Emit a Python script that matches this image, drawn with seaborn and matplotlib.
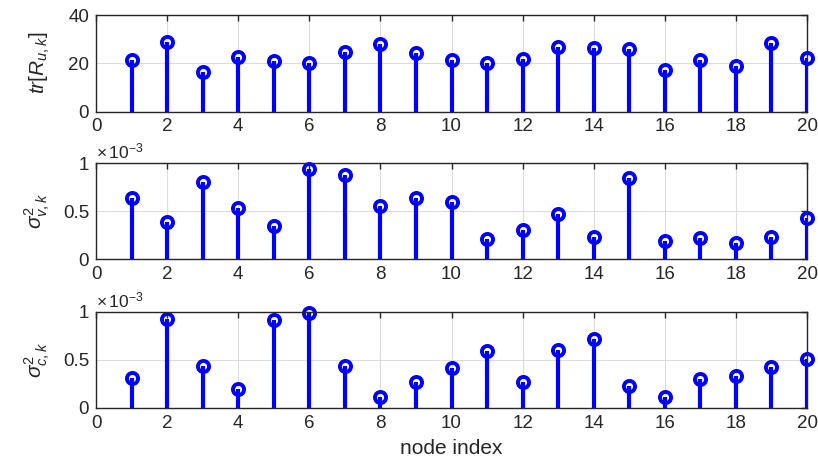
import numpy as np
import matplotlib
matplotlib.use("Agg")
import matplotlib.pyplot as plt
import matplotlib.ticker as mticker
import seaborn as sns

# node indices and the three quantities per node
nodes = list(range(1, 21))
tr_Ru = [21.4, 28.7, 16.5, 22.4, 21.0, 20.0, 24.8, 27.9, 24.4, 21.4,
         20.0, 21.9, 26.9, 26.5, 25.9, 17.1, 21.4, 19.0, 28.3, 22.1]
sigma_v = [0.64e-3, 0.385e-3, 0.81e-3, 0.53e-3, 0.347e-3, 0.94e-3, 0.875e-3, 0.56e-3, 0.635e-3, 0.597e-3,
           0.215e-3, 0.30e-3, 0.47e-3, 0.23e-3, 0.85e-3, 0.19e-3, 0.225e-3, 0.167e-3, 0.23e-3, 0.433e-3]
sigma_c = [0.3125e-3, 0.924e-3, 0.4375e-3, 0.19e-3, 0.91e-3, 0.99e-3, 0.434e-3, 0.115e-3, 0.265e-3, 0.41e-3,
           0.594e-3, 0.265e-3, 0.604e-3, 0.719e-3, 0.226e-3, 0.115e-3, 0.299e-3, 0.327e-3, 0.42e-3, 0.505e-3]

sns.set_theme(style="white")
plt.rcParams['font.family'] = ['Liberation Sans', 'DejaVu Sans']
plt.rcParams['mathtext.fontset'] = 'custom'
plt.rcParams['mathtext.rm'] = 'Liberation Sans'
plt.rcParams['mathtext.it'] = 'Liberation Sans:italic'

fig = plt.figure(figsize=(8.18, 4.61), dpi=100)
left, width = 96 / 818, (807 - 96) / 818
boxes = [(15, 111.5), (163.3, 259.3), (311.7, 407.7)]

series = [
    (tr_Ru, r'$tr[R_{u,k}]$', (0, 40), [0, 20, 40], False),
    (sigma_v, r'$\sigma^2_{v,k}$', (0, 1e-3), [0, 0.5e-3, 1e-3], True),
    (sigma_c, r'$\sigma^2_{c,k}$', (0, 1e-3), [0, 0.5e-3, 1e-3], True),
]

axes = []
for (top, bot), (vals, lab, ylim, yt, sci) in zip(boxes, series):
    ax = fig.add_axes([left, 1 - bot / 461, width, (bot - top) / 461])
    axes.append(ax)
    ax.grid(True, color='#dcdcdc', linewidth=0.8)
    ax.set_axisbelow(True)
    ml, sl, bl = ax.stem(nodes, vals, linefmt='-', markerfmt='o', basefmt=' ')
    sl.set_color('#0000ff')
    sl.set_linewidth(3.0)
    ml.set_color('#0000ff')
    ml.set_markerfacecolor('none')
    ml.set_markersize(8)
    ml.set_markeredgewidth(2.8)
    ml.set_clip_on(False)
    ax.set_xlim(0, 20)
    ax.set_ylim(*ylim)
    ax.set_xticks(range(0, 21, 2))
    ax.set_yticks(yt)
    if sci:
        ax.yaxis.set_major_formatter(mticker.FuncFormatter(lambda v, p: f'{v * 1e3:g}'))
        ax.text(0.0, 1.015, r'$\times\,10^{-3}$', transform=ax.transAxes,
                fontsize=12.5, color='#262626', ha='left', va='bottom')
    ax.set_ylabel(lab, fontsize=15, color='#262626')
    ax.tick_params(direction='in', top=True, right=True, length=4, width=1,
                   labelsize=13.5, labelcolor='#262626', color='#262626', pad=5)
    for s in ax.spines.values():
        s.set_color('#262626')
        s.set_linewidth(1.0)
    ax.yaxis.set_label_coords(-0.062, 0.5)

axes[-1].set_xlabel('node index', fontsize=15, color='#262626', labelpad=5)

fig.savefig('out.png', dpi=100)
